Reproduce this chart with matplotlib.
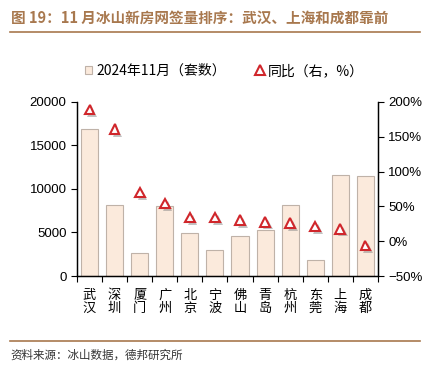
import matplotlib.pyplot as plt
import matplotlib.patheffects as pe
from matplotlib.lines import Line2D
from matplotlib.patches import Patch
import numpy as np

plt.rcParams['font.family'] = ['Noto Sans CJK SC', 'DejaVu Sans']

cities = ['武\n汉', '深\n圳', '厦\n门', '广\n州', '北\n京', '宁\n波',
          '佛\n山', '青\n岛', '杭\n州', '东\n莞', '上\n海', '成\n都']
sales = [16850, 8100, 2700, 8000, 4900, 2950, 4600, 5250, 8200, 1800, 11650, 11450]
yoy = [189, 161, 70, 54, 34, 34, 30, 28, 26, 21, 18, -6]

bar_face = '#FBEADC'
bar_edge = '#BFB2A8'
red = '#D0262B'
brown = '#A8784E'

fig = plt.figure(figsize=(4.3, 3.73), dpi=100)
ax = fig.add_axes([0.179, 0.260, 0.700, 0.467])
ax2 = ax.twinx()

x = np.arange(len(cities))
ax.bar(x, sales, width=0.68, color=bar_face, edgecolor=bar_edge, linewidth=0.8, zorder=2)

ax2.plot(x, yoy, linestyle='none', marker='^', markersize=7, markerfacecolor='white',
         markeredgecolor=red, markeredgewidth=1.5, zorder=3,
         path_effects=[pe.SimplePatchShadow(offset=(2, -2), shadow_rgbFace='#888888', alpha=0.5),
                       pe.Normal()])

ax.set_xlim(-0.5, len(cities) - 0.5)
ax.set_ylim(0, 20000)
ax.set_yticks([0, 5000, 10000, 15000, 20000])
ax2.set_ylim(-50, 200)
ax2.set_yticks([-50, 0, 50, 100, 150, 200])
ax2.set_yticklabels(['−50%', '0%', '50%', '100%', '150%', '200%'])

ax.set_xticks(x)
ax.set_xticklabels(cities, fontsize=9.5, linespacing=1.0)
ax.set_xticks(np.arange(-0.5, len(cities)), minor=True)
ax.tick_params(axis='x', which='major', length=0, pad=9)
ax.tick_params(axis='x', which='minor', length=4, width=0.8, direction='out')
ax.tick_params(axis='y', labelsize=9.5, length=4, width=0.8, direction='out')
ax2.tick_params(axis='y', labelsize=9.5, length=4, width=0.8, direction='out')

for a in (ax, ax2):
    a.spines['top'].set_visible(False)
    for s in ('left', 'right', 'bottom'):
        a.spines[s].set_linewidth(0.9)
for lab in ax.get_yticklabels() + ax2.get_yticklabels():
    lab.set_family(['Liberation Sans', 'DejaVu Sans'])

handles = [Patch(facecolor=bar_face, edgecolor=bar_edge, linewidth=0.8),
           Line2D([], [], linestyle='none', marker='^', markersize=7, markerfacecolor='white',
                  markeredgecolor=red, markeredgewidth=1.5)]
fig.legend(handles, ['2024年11月（套数）', '同比（右，%）'], loc='center',
           bbox_to_anchor=(0.522, 0.81), ncol=2, frameon=False, fontsize=10,
           handlelength=0.5, handleheight=0.5, handletextpad=0.3, columnspacing=2.2)

fig.text(0.025, 0.952, '图 19：11 月冰山新房网签量排序：武汉、上海和成都靠前',
         fontsize=10.5, fontweight='bold', color=brown, va='center')
fig.add_artist(Line2D([0.023, 0.977], [0.915, 0.915], color=brown, linewidth=1.2))
fig.add_artist(Line2D([0.023, 0.977], [0.085, 0.085], color=brown, linewidth=1.2))
fig.text(0.025, 0.048, '资料来源：冰山数据，德邦研究所', fontsize=8.3, color='#333333', va='center')

fig.savefig('out.png', dpi=100)
